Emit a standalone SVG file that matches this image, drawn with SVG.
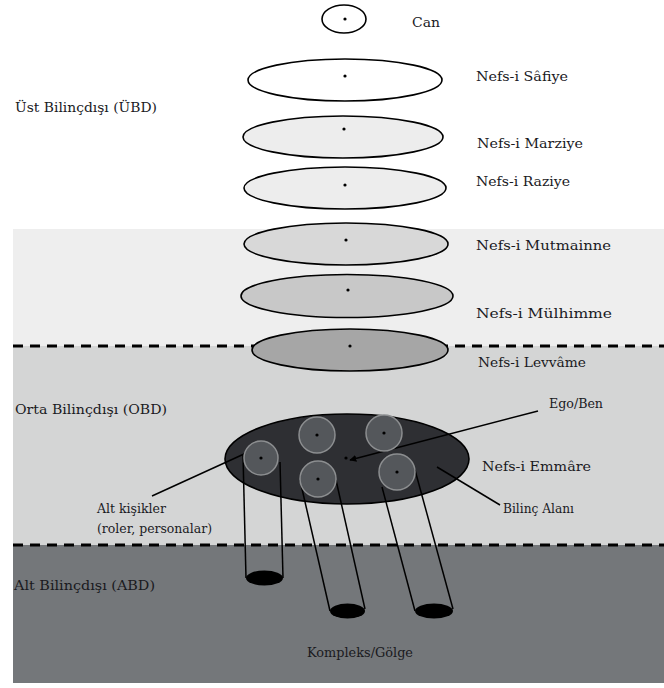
<svg xmlns="http://www.w3.org/2000/svg" width="664" height="688" viewBox="0 0 664 688">
<defs>
<style>
.t{font-family:"DejaVu Serif","Liberation Serif",serif;font-size:13.5px;fill:#1a1a1e}
.s{font-family:"DejaVu Serif","Liberation Serif",serif;font-size:12px;fill:#1a1a1e}
.e{stroke:#000;stroke-width:1.6}
.d{fill:#000}
.sub{fill:#54575b;stroke:#8c8e90;stroke-width:1.5}
.ln{stroke:#000;stroke-width:1.5;fill:none}
.dash{stroke:#000;stroke-width:3;stroke-dasharray:10 7;fill:none}
.hole{fill:#000}
</style>
<marker id="ah" viewBox="0 0 10 10" refX="9" refY="5" markerWidth="7" markerHeight="7" orient="auto" markerUnits="userSpaceOnUse">
<path d="M0,0 L10,5 L0,10 z" fill="#000"/>
</marker>
</defs>
<g id="bands">
<rect x="13" y="229" width="651" height="117" fill="#eeeeee"/>
<rect x="13" y="346" width="651" height="199" fill="#d4d5d5"/>
<rect x="13" y="545" width="651" height="138" fill="#74777a"/>
<line class="dash" x1="13" y1="346" x2="664" y2="346"/>
<line class="dash" x1="13" y1="545" x2="664" y2="545"/>
</g>
<g id="region-labels">
<text class="t" x="15" y="112" textLength="142" lengthAdjust="spacingAndGlyphs">Üst Bilinçdışı (ÜBD)</text>
<text class="t" x="15" y="414" textLength="152" lengthAdjust="spacingAndGlyphs">Orta Bilinçdışı (OBD)</text>
<text class="t" x="14" y="590" textLength="141" lengthAdjust="spacingAndGlyphs">Alt Bilinçdışı (ABD)</text>
</g>
<g id="can">
<ellipse class="e" cx="344" cy="19" rx="22" ry="14" fill="#fff"/>
<circle class="d" cx="345" cy="19" r="1.6"/>
<text class="t" x="412" y="27" textLength="28" lengthAdjust="spacingAndGlyphs">Can</text>
</g>
<g id="safiye">
<ellipse class="e" cx="345" cy="80" rx="97" ry="21" fill="#fff"/>
<circle class="d" cx="345" cy="76" r="1.6"/>
<text class="t" x="476" y="81" textLength="92" lengthAdjust="spacingAndGlyphs">Nefs-i Sâfiye</text>
</g>
<g id="marziye">
<ellipse class="e" cx="343" cy="137" rx="100" ry="21" fill="#ededed"/>
<circle class="d" cx="344" cy="129" r="1.6"/>
<text class="t" x="477" y="148" textLength="106" lengthAdjust="spacingAndGlyphs">Nefs-i Marziye</text>
</g>
<g id="raziye">
<ellipse class="e" cx="345" cy="188" rx="101" ry="21" fill="#ededed"/>
<circle class="d" cx="345" cy="185" r="1.6"/>
<text class="t" x="476" y="186" textLength="94" lengthAdjust="spacingAndGlyphs">Nefs-i Raziye</text>
</g>
<g id="mutmainne">
<ellipse class="e" cx="346" cy="244" rx="102" ry="21" fill="#d8d8d8"/>
<circle class="d" cx="346" cy="240" r="1.6"/>
<text class="t" x="476" y="250" textLength="135" lengthAdjust="spacingAndGlyphs">Nefs-i Mutmainne</text>
</g>
<g id="mulhimme">
<ellipse class="e" cx="347" cy="296" rx="106" ry="21.5" fill="#c8c8c8"/>
<circle class="d" cx="348" cy="290" r="1.6"/>
<text class="t" x="476" y="318" textLength="136" lengthAdjust="spacingAndGlyphs">Nefs-i Mülhimme</text>
</g>
<g id="levvame">
<ellipse class="e" cx="350" cy="350" rx="98" ry="21" fill="#a6a6a6"/>
<circle class="d" cx="350" cy="346" r="1.6"/>
<text class="t" x="478" y="367" textLength="108" lengthAdjust="spacingAndGlyphs">Nefs-i Levvâme</text>
</g>
<g id="emmare">
<ellipse class="e" cx="347" cy="459" rx="122" ry="45" fill="#2e2f33"/>
<circle class="d" cx="346" cy="458" r="1.6"/>
<text class="t" x="482" y="471" textLength="109" lengthAdjust="spacingAndGlyphs">Nefs-i Emmâre</text>
</g>
<g id="connectors">
<line class="ln" x1="243" y1="455" x2="246" y2="578"/>
<line class="ln" x1="280" y1="462" x2="283" y2="578"/>
<line class="ln" x1="300" y1="480" x2="330" y2="611"/>
<line class="ln" x1="336" y1="480" x2="365" y2="609"/>
<line class="ln" x1="382" y1="487" x2="415" y2="611"/>
<line class="ln" x1="415" y1="470" x2="453" y2="609"/>
<line class="ln" x1="538" y1="411" x2="350" y2="460" marker-end="url(#ah)"/>
<line class="ln" x1="437" y1="467" x2="500" y2="505"/>
<line class="ln" x1="152" y1="496" x2="244" y2="454"/>
</g>
<g id="alt-kisilikler">
<circle class="sub" cx="261" cy="458" r="17"/>
<circle class="d" cx="261" cy="458" r="1.6"/>
<circle class="sub" cx="317" cy="435" r="18"/>
<circle class="d" cx="317" cy="435" r="1.6"/>
<circle class="sub" cx="384" cy="433" r="18"/>
<circle class="d" cx="384" cy="433" r="1.6"/>
<circle class="sub" cx="318" cy="479" r="18"/>
<circle class="d" cx="318" cy="479" r="1.6"/>
<circle class="sub" cx="397" cy="472" r="18"/>
<circle class="d" cx="397" cy="472" r="1.6"/>
<text class="s" x="97" y="513" textLength="69" lengthAdjust="spacingAndGlyphs">Alt kişikler</text>
<text class="s" x="97" y="533" textLength="115" lengthAdjust="spacingAndGlyphs">(roler, personalar)</text>
</g>
<g id="kompleks">
<ellipse class="hole" cx="264.5" cy="578" rx="18.5" ry="7.5"/>
<ellipse class="hole" cx="347.5" cy="611" rx="17.5" ry="7.5"/>
<ellipse class="hole" cx="434" cy="611" rx="19" ry="7.5"/>
<text class="s" x="307" y="657" textLength="106" lengthAdjust="spacingAndGlyphs">Kompleks/Gölge</text>
</g>
<g id="ego">
<text class="s" x="549" y="408" textLength="54" lengthAdjust="spacingAndGlyphs">Ego/Ben</text>
</g>
<g id="bilinc-alani">
<text class="s" x="503" y="513" textLength="71" lengthAdjust="spacingAndGlyphs">Bilinç Alanı</text>
</g>
</svg>
